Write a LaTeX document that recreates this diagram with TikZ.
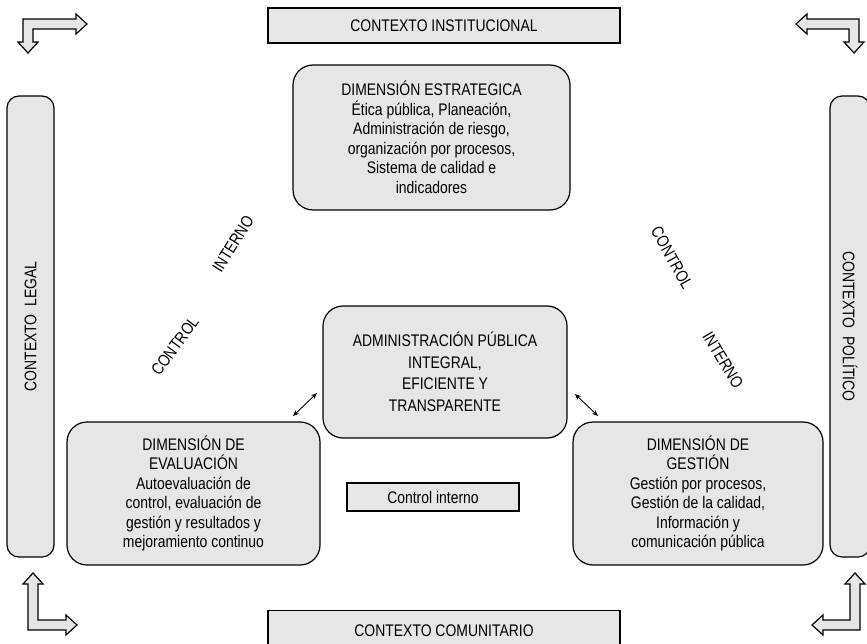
\documentclass[tikz,border=0pt]{standalone}
\usepackage{fontspec}
\setmainfont[FakeStretch=0.83]{Liberation Sans}
\usetikzlibrary{arrows.meta}
\definecolor{panel}{RGB}{230,230,230}

\tikzset{
  txt/.style={font=\fontsize{16.8}{19.5}\selectfont, inner sep=0pt},
  ctxbox/.style={draw, line width=1.2pt, fill=panel, txt},
  dimbox/.style={ctxbox, rounded corners=20pt, align=center},
  sidebox/.style={ctxbox, rounded corners=12pt},
  diaglabel/.style={txt},
  dblarrow/.style={line width=0.9pt, {Stealth[length=6pt,width=5pt]}-{Stealth[length=6pt,width=5pt]}},
  bentshape/.style={draw=black, fill=panel, line width=1.2pt, line join=miter}
}

% bent double-arm arrow: corner x, corner y, x mirror, y mirror, arm lengths
\newcommand\bentarrow[6]{%
  \begin{scope}[shift={(#1,#2)}, xscale=#3, yscale=#4]
    \filldraw[bentshape] (0,0) -- ({#5-11},0) -- ({#5-11},-5) -- (#5,5)
      -- ({#5-11},15) -- ({#5-11},10) -- (10,10) -- (10,{#6-11})
      -- (15,{#6-11}) -- (5,#6) -- (-5,{#6-11}) -- (0,{#6-11}) -- cycle;
  \end{scope}}

\begin{document}
\begin{tikzpicture}[x=1pt, y=-1pt]
  \useasboundingbox (0,0) rectangle (867,644);

  % outer context frames
  \node[ctxbox, minimum width=352pt, minimum height=35pt] (inst) at (444,25.5) {CONTEXTO INSTITUCIONAL};
  \node[ctxbox, minimum width=352pt, minimum height=40pt, anchor=north] (comu) at (444,610) {};
  \node[txt] (comut) at (444,631) {CONTEXTO COMUNITARIO};
  \node[sidebox, rotate=90, minimum width=461pt, minimum height=47pt] (legal) at (30.5,326.5) {CONTEXTO~~LEGAL};
  \node[sidebox, rotate=-90, minimum width=461pt, minimum height=40pt] (poli) at (850,326.5) {CONTEXTO~~POLÍTICO};

  % dimensions
  \node[dimbox, minimum width=277pt, minimum height=145pt] (estr) at (431.5,137.5)
    {DIMENSIÓN ESTRATEGICA\\Ética pública, Planeación,\\Administración de riesgo,\\organización por procesos,\\Sistema de calidad e\\indicadores};
  \node[dimbox, minimum width=244pt, minimum height=132pt, font=\fontsize{16.8}{21.5}\selectfont] (admin) at (445,372)
    {ADMINISTRACIÓN PÚBLICA\\INTEGRAL,\\EFICIENTE Y\\TRANSPARENTE};
  \node[dimbox, minimum width=253pt, minimum height=143pt] (eval) at (193.5,493.5)
    {DIMENSIÓN DE\\EVALUACIÓN\\Autoevaluación de\\control, evaluación de\\gestión y resultados y\\mejoramiento continuo};
  \node[dimbox, minimum width=250pt, minimum height=143pt] (gest) at (698,493.5)
    {DIMENSIÓN DE\\GESTIÓN\\Gestión por procesos,\\Gestión de la calidad,\\Información y\\comunicación pública};
  \node[ctxbox, minimum width=172pt, minimum height=28pt] (ci) at (433,497) {Control interno};

  % rotated side labels
  \node[diaglabel, rotate=58] (intl) at (233,244) {INTERNO};
  \node[diaglabel, rotate=54] (conl) at (175,346) {CONTROL};
  \node[diaglabel, rotate=-61] (conr) at (672,258) {CONTROL};
  \node[diaglabel, rotate=-59] (intr) at (723,360) {INTERNO};

  % links between the central box and the lower dimensions
  \coordinate (la) at (293,416);
  \coordinate (lb) at (317,393);
  \coordinate (ra) at (575,394);
  \coordinate (rb) at (598,416);
  \draw[dblarrow] (la) -- (lb);
  \draw[dblarrow] (ra) -- (rb);

  % corner arrows
  \bentarrow{23}{19}{1}{1}{64}{34}
  \bentarrow{859}{19}{-1}{1}{63}{34}
  \bentarrow{28}{630}{1}{-1}{49}{57}
  \bentarrow{860}{630}{-1}{-1}{48}{57}
\end{tikzpicture}
\end{document}
